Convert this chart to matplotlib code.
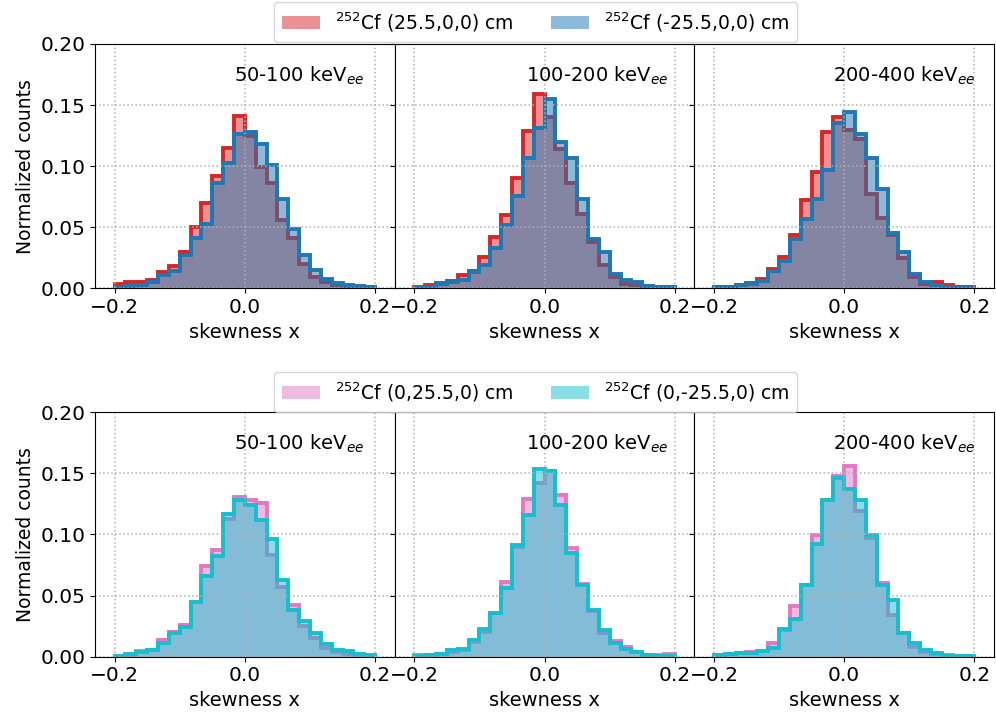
import matplotlib
matplotlib.use('Agg')
import matplotlib.pyplot as plt
import numpy as np

# bin edges of the skewness histograms
edges = np.linspace(-0.2, 0.2, 25)

energy_labels = ['50-100 keV$_{ee}$', '100-200 keV$_{ee}$', '200-400 keV$_{ee}$']

# top row: source at (25.5,0,0) and (-25.5,0,0)
xpos_50_100 = [0.0033, 0.005, 0.005, 0.007, 0.013, 0.018, 0.030, 0.050, 0.070, 0.092, 0.115, 0.141,
               0.125, 0.099, 0.086, 0.056, 0.041, 0.020, 0.0095, 0.0054, 0.0027, 0.002, 0.0019, 0.0014]
xneg_50_100 = [0.0014, 0.002, 0.003, 0.0054, 0.011, 0.014, 0.027, 0.041, 0.053, 0.086, 0.103, 0.126,
               0.128, 0.118, 0.101, 0.073, 0.049, 0.027, 0.015, 0.0076, 0.0046, 0.0027, 0.0016, 0.001]
xpos_100_200 = [0.001, 0.0025, 0.004, 0.006, 0.011, 0.014, 0.026, 0.042, 0.060, 0.090, 0.129, 0.159,
                0.140, 0.114, 0.086, 0.061, 0.038, 0.019, 0.0095, 0.0035, 0.0027, 0.002, 0.0014, 0.001]
xneg_100_200 = [0.0005, 0.0014, 0.0035, 0.005, 0.007, 0.013, 0.019, 0.033, 0.052, 0.076, 0.107, 0.131,
                0.155, 0.120, 0.107, 0.073, 0.040, 0.030, 0.012, 0.0068, 0.005, 0.002, 0.0014, 0.0008]
xpos_200_400 = [0.001, 0.0015, 0.0025, 0.004, 0.0076, 0.016, 0.026, 0.044, 0.072, 0.095, 0.128, 0.140,
                0.130, 0.122, 0.077, 0.058, 0.044, 0.025, 0.0095, 0.0035, 0.005, 0.0025, 0.0015, 0.001]
xneg_200_400 = [0.001, 0.0015, 0.003, 0.0035, 0.0062, 0.0145, 0.022, 0.040, 0.057, 0.073, 0.097, 0.135,
                0.144, 0.126, 0.107, 0.081, 0.045, 0.030, 0.0117, 0.0054, 0.0027, 0.0014, 0.001, 0.0005]

# bottom row: source at (0,25.5,0) and (0,-25.5,0)
ypos_50_100 = [0.0008, 0.0016, 0.0046, 0.0055, 0.0137, 0.020, 0.026, 0.045, 0.074, 0.087, 0.113, 0.131,
               0.128, 0.126, 0.083, 0.057, 0.042, 0.025, 0.015, 0.0074, 0.0036, 0.0022, 0.0011, 0.0005]
yneg_50_100 = [0.0008, 0.0022, 0.004, 0.0055, 0.0115, 0.0197, 0.0246, 0.045, 0.066, 0.0825, 0.117, 0.128,
               0.124, 0.112, 0.096, 0.063, 0.038, 0.029, 0.0197, 0.010, 0.0055, 0.0044, 0.0022, 0.0014]
ypos_100_200 = [0.0016, 0.0016, 0.0022, 0.004, 0.0055, 0.0123, 0.020, 0.0355, 0.0615, 0.090, 0.129, 0.142,
                0.152, 0.132, 0.089, 0.0595, 0.037, 0.0197, 0.0128, 0.0077, 0.004, 0.0016, 0.0014, 0.0022]
yneg_100_200 = [0.0008, 0.0014, 0.0022, 0.0055, 0.0063, 0.0137, 0.0224, 0.0355, 0.056, 0.0915, 0.116, 0.154,
                0.152, 0.124, 0.085, 0.059, 0.038, 0.022, 0.0115, 0.006, 0.0038, 0.0014, 0.0008, 0.0005]
ypos_200_400 = [0.0014, 0.0019, 0.0027, 0.0038, 0.0046, 0.011, 0.022, 0.0415, 0.0587, 0.0997, 0.128, 0.1475,
                0.156, 0.119, 0.0975, 0.060, 0.034, 0.019, 0.0082, 0.004, 0.0022, 0.0014, 0.0008, 0.0005]
yneg_200_400 = [0.0014, 0.0019, 0.0027, 0.0027, 0.0046, 0.0068, 0.0224, 0.0306, 0.0587, 0.092, 0.128, 0.146,
                0.137, 0.128, 0.0997, 0.0587, 0.046, 0.0197, 0.0115, 0.0055, 0.0027, 0.0008, 0.0005, 0.0005]

top_labels = ['$^{252}$Cf (25.5,0,0) cm', '$^{252}$Cf (-25.5,0,0) cm']
bottom_labels = ['$^{252}$Cf (0,25.5,0) cm', '$^{252}$Cf (0,-25.5,0) cm']

rows = [
    ([xpos_50_100, xpos_100_200, xpos_200_400], [xneg_50_100, xneg_100_200, xneg_200_400],
     ('tab:red', 'tab:blue'), top_labels),
    ([ypos_50_100, ypos_100_200, ypos_200_400], [yneg_50_100, yneg_100_200, yneg_200_400],
     ('tab:pink', 'tab:cyan'), bottom_labels),
]

fig, axes = plt.subplots(2, 3, figsize=(9.96, 7.21), dpi=100, sharey=True)
fig.subplots_adjust(left=0.0954, right=0.998, top=0.939, bottom=0.0892, wspace=0, hspace=0.507)

legend_y = [1 - 2 / 721, 1 - 372 / 721]
label_x = [0.682, 0.677, 0.70]

for r, (pos_sets, neg_sets, colors, labels) in enumerate(rows):
    handles = []
    for c in range(3):
        ax = axes[r, c]
        h1 = ax.stairs(pos_sets[c], edges, fill=True, color=colors[0], alpha=0.5, lw=0, label=labels[0])
        ax.stairs(pos_sets[c], edges, color=colors[0], lw=2.8)
        h2 = ax.stairs(neg_sets[c], edges, fill=True, color=colors[1], alpha=0.5, lw=0, label=labels[1])
        ax.stairs(neg_sets[c], edges, color=colors[1], lw=2.8)
        if c == 0:
            handles = [h1, h2]
        ax.set_xlim(-0.23, 0.23)
        ax.set_ylim(0, 0.2)
        ax.set_xticks([-0.2, 0.0, 0.2])
        ax.set_yticks([0, 0.05, 0.1, 0.15, 0.2])
        ax.grid(ls=':', color='#b0b0b0', lw=1.1)
        ax.tick_params(labelsize=14.5)
        ax.set_xlabel('skewness x', fontsize=14)
        ax.text(label_x[c], 0.87, energy_labels[c], transform=ax.transAxes,
                ha='center', va='center', fontsize=14)
    axes[r, 0].set_ylabel('Normalized counts', fontsize=13.5)
    fig.legend(handles, labels, loc='upper left', bbox_to_anchor=(274 / 996, legend_y[r]),
               ncol=2, fontsize=13.5, borderaxespad=0, columnspacing=2.0, borderpad=0.45)

fig.savefig('out.png', dpi=100)
